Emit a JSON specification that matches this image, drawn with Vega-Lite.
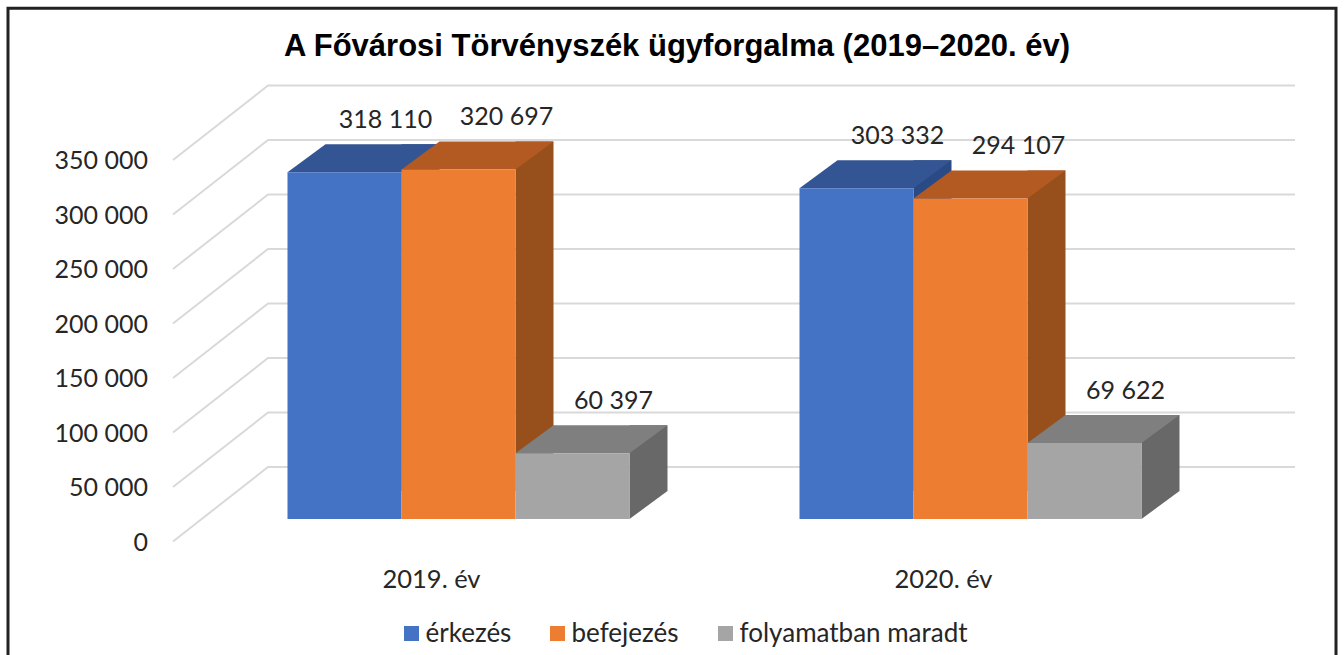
{"$schema":"https://vega.github.io/schema/vega-lite/v6.json","autosize":"none","padding":{"left":202.5,"top":137.5,"right":117.5,"bottom":136},"width":1024,"height":381.5,"background":"white","config":{"view":{"stroke":null}},"title":{"text":"A Fővárosi Törvényszék ügyforgalma (2019–2020. év)","font":"Liberation Sans","fontSize":31,"fontWeight":"bold","color":"#000000","anchor":"middle","dx":-37.5,"offset":-61},"datasets":{"bars":[{"year":"2019. év","series":"érkezés","value":318110,"label":"318 110"},{"year":"2019. év","series":"befejezés","value":320697,"label":"320 697"},{"year":"2019. év","series":"folyamatban maradt","value":60397,"label":"60 397"},{"year":"2020. év","series":"érkezés","value":303332,"label":"303 332"},{"year":"2020. év","series":"befejezés","value":294107,"label":"294 107"},{"year":"2020. év","series":"folyamatban maradt","value":69622,"label":"69 622"}],"ticks":[{"tick":0},{"tick":50000},{"tick":100000},{"tick":150000},{"tick":200000},{"tick":250000},{"tick":300000},{"tick":350000}],"frame":[{"name":"frame"}]},"data":{"name":"bars"},"encoding":{"x":{"field":"year","type":"nominal","sort":null,"scale":{"paddingInner":0.332,"paddingOuter":0.166},"axis":{"title":null,"domain":false,"ticks":false,"labelAngle":0,"labelFont":"Lato","labelFontSize":25.5,"labelColor":"#262626","labelOffset":-27,"labelPadding":48}},"xOffset":{"field":"series","type":"nominal","sort":["érkezés","befejezés","folyamatban maradt"],"scale":{"paddingInner":0,"paddingOuter":0}},"y":{"field":"value","type":"quantitative","scale":{"domain":[0,350000],"nice":false},"axis":{"title":null,"grid":false,"domain":false,"ticks":false,"values":[0,50000,100000,150000,200000,250000,300000,350000],"labelExpr":"replace(format(datum.value, ','), ',', ' ')","labelFont":"Lato","labelFontSize":25,"labelColor":"#262626","labelOffset":23,"offset":47,"labelPadding":8}}},"layer":[{"data":{"name":"frame"},"mark":{"type":"point","filled":false,"fill":null,"stroke":"#222222","strokeWidth":3,"size":4,"opacity":1,"shape":"M-706.5 -320L621.5 -320L621.5 400L-706.5 400Z"},"encoding":{"x":{"value":512},"y":{"value":190.75},"xOffset":null}},{"data":{"name":"ticks"},"mark":{"type":"point","filled":false,"fill":null,"stroke":"#d9d9d9","strokeWidth":2,"size":4,"opacity":1,"shape":"M-29.5 22.5L65.5 -52L1092.5 -52"},"encoding":{"x":{"value":0},"xOffset":null,"y":{"field":"tick","type":"quantitative"}}},{"transform":[{"filter":"datum.series==='érkezés'"}],"mark":{"type":"bar","width":38,"xOffset":-38,"yOffset":-28,"y2Offset":-28,"color":"#2a4a85"},"encoding":{"xOffset":null}},{"transform":[{"filter":"datum.series==='érkezés'"}],"mark":{"type":"point","filled":true,"opacity":1,"size":4,"color":"#335593","shape":"M-57 0L57 0L95 -28L-19 -28Z"}},{"transform":[{"filter":"datum.series==='érkezés'"}],"mark":{"type":"bar","width":114},"encoding":{"color":{"field":"series","type":"nominal","sort":["érkezés","befejezés","folyamatban maradt"],"scale":{"domain":["érkezés","befejezés","folyamatban maradt"],"range":["#4472c4","#ed7d31","#a5a5a5"]},"legend":{"title":null,"orient":"none","legendX":196,"legendY":483,"direction":"horizontal","columns":3,"symbolType":"square","symbolSize":225,"labelFont":"Lato","labelFontSize":26,"labelColor":"#262626","labelLimit":0,"labelOffset":1,"columnPadding":33,"symbolOpacity":1}}}},{"transform":[{"filter":"datum.series==='befejezés'"}],"mark":{"type":"bar","width":38,"xOffset":76,"yOffset":-28,"y2Offset":-28,"color":"#97501b"},"encoding":{"xOffset":null}},{"transform":[{"filter":"datum.series==='befejezés'"}],"mark":{"type":"point","filled":true,"opacity":1,"size":4,"color":"#b35a22","shape":"M-57 0L57 0L95 -28L-19 -28Z"}},{"transform":[{"filter":"datum.series==='befejezés'"}],"mark":{"type":"bar","width":114,"color":"#ed7d31"}},{"transform":[{"filter":"datum.series==='folyamatban maradt'"}],"mark":{"type":"bar","width":38,"xOffset":190,"yOffset":-28,"y2Offset":-28,"color":"#686868"},"encoding":{"xOffset":null}},{"transform":[{"filter":"datum.series==='folyamatban maradt'"}],"mark":{"type":"point","filled":true,"opacity":1,"size":4,"color":"#686868","shape":"M57 0L57 -28L95 -28Z"},"encoding":{"y":{"datum":0}}},{"transform":[{"filter":"datum.series==='folyamatban maradt'"}],"mark":{"type":"point","filled":true,"opacity":1,"size":4,"color":"#7f7f7f","shape":"M-57 0L57 0L95 -28L-19 -28Z"}},{"transform":[{"filter":"datum.series==='folyamatban maradt'"}],"mark":{"type":"bar","width":114,"color":"#a5a5a5"}},{"transform":[{"filter":"datum.series!=='befejezés'"}],"mark":{"type":"text","font":"Lato","fontSize":25,"color":"#262626","dx":41,"dy":-52},"encoding":{"text":{"field":"label"}}},{"transform":[{"filter":"datum.series==='befejezés'"}],"mark":{"type":"text","font":"Lato","fontSize":25,"color":"#262626","dx":48,"dy":-52},"encoding":{"text":{"field":"label"}}}]}
